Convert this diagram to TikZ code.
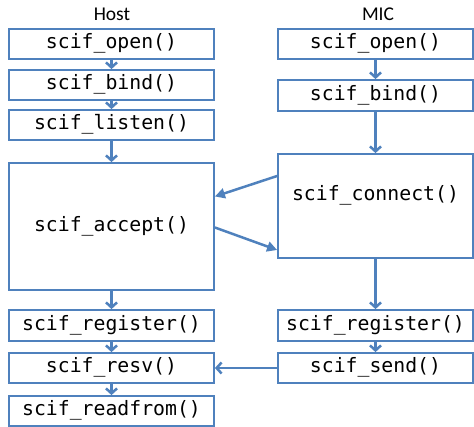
\documentclass[tikz,border=0pt]{standalone}
\usepackage{fontspec}
\setmainfont{Carlito}
\newfontfamily\callfont{DejaVu Sans Mono}
\usetikzlibrary{arrows.meta}
\definecolor{flowblue}{RGB}{79,129,189}
\tikzset{
	call/.style = {draw = flowblue, line width = 1.8pt, rectangle, inner sep = 0pt,
		font = \callfont\fontsize{19.8}{19.8}\selectfont, text height = 14pt, text depth = 4pt},
	hostcall/.style = {call, minimum width = 205pt},
	miccall/.style = {call, minimum width = 195pt},
	flow/.style = {draw = flowblue, line width = 2.5pt, -{Straight Barb[length = 5pt, width = 11pt]}},
	handshake/.style = {draw = flowblue, line width = 2.5pt, -{Triangle[length = 10pt, width = 10pt]}}
}

\begin{document}
\begin{tikzpicture}[x = 1pt, y = -1pt]
		\useasboundingbox (0,0) rectangle (474,427);
		\node [font = \fontsize{19.5}{19.5}\selectfont] (host) at (112,14) {Host};
		\node [font = \fontsize{19.5}{19.5}\selectfont] (mic) at (378,14) {MIC};

		\node [hostcall, minimum height = 30pt] (hopen) at (111.5,44) {scif\_open()};
		\node [hostcall, minimum height = 30pt] (hbind) at (111.5,85) {scif\_bind()};
		\node [hostcall, minimum height = 30pt] (hlisten) at (111.5,125) {scif\_listen()};
		\node [hostcall, minimum height = 127pt] (accept) at (111.5,226.5) {scif\_accept()};
		\node [hostcall, minimum height = 31pt] (hreg) at (111.5,325.5) {scif\_register()};
		\node [hostcall, minimum height = 30pt] (resv) at (111.5,368) {scif\_resv()};
		\node [hostcall, minimum height = 30pt] (readfrom) at (111.5,411) {scif\_readfrom()};

		\node [miccall, minimum height = 30pt] (mopen) at (375.5,44) {scif\_open()};
		\node [miccall, minimum height = 31pt] (mbind) at (375.5,95.5) {scif\_bind()};
		\node [miccall, minimum height = 104pt, text depth = 24pt] (connect) at (375.5,206) {scif\_connect()};
		\node [miccall, minimum height = 31pt] (mreg) at (375.5,325.5) {scif\_register()};
		\node [miccall, minimum height = 30pt] (send) at (375.5,368) {scif\_send()};

		\draw [flow] (hopen) -- (hbind);
		\draw [flow] (hbind) -- (hlisten);
		\draw [flow] (hlisten) -- (accept);
		\draw [flow] (accept) -- (hreg);
		\draw [flow] (hreg) -- (resv);
		\draw [flow] (resv) -- (readfrom);
		\draw [flow] (mopen) -- (mbind);
		\draw [flow] (mbind) -- (connect);
		\draw [flow] (connect) -- (mreg);
		\draw [flow] (mreg) -- (send);
		\draw [flow] (send) -- (resv);
		\draw [handshake] ([yshift = 30pt]connect.west) -- ([yshift = 30pt]accept.east);
		\draw [handshake] ([yshift = -1pt]accept.east) -- ([yshift = -44pt]connect.west);
	\end{tikzpicture}
\end{document}
